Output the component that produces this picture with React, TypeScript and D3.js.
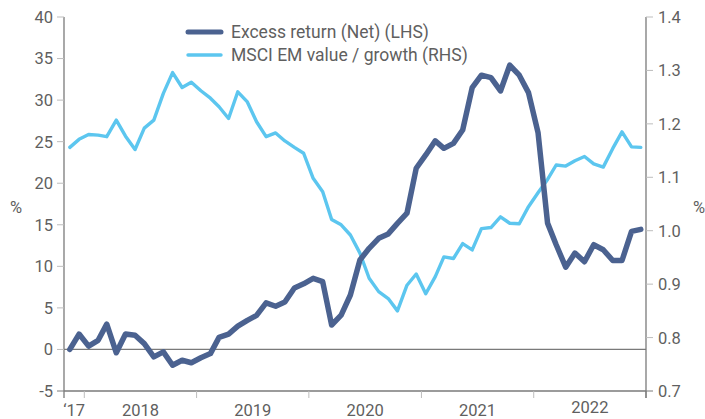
import React from "react";
import * as d3 from "d3";

const months: Date[] = d3.timeMonth.range(new Date(2017, 10, 1), new Date(2023, 0, 1)).map((d) => new Date(d.getFullYear(), d.getMonth(), 15));

const excessReturn: number[] = [
  0.0, 1.85, 0.4, 1.1, 3.05, -0.4, 1.85, 1.7, 0.7, -0.9, -0.3, -1.9, -1.3, -1.6, -1.0, -0.5,
  1.45, 1.85, 2.8, 3.5, 4.1, 5.6, 5.2, 5.7, 7.4, 7.9, 8.55, 8.15, 2.94, 4.14, 6.55, 10.76,
  12.17, 13.37, 13.9, 15.17, 16.4, 21.8, 23.4, 25.1, 24.2, 24.8, 26.4, 31.5, 33.0, 32.7,
  31.1, 34.2, 33.0, 30.9, 26.1, 15.2, 12.6, 9.9, 11.6, 10.55, 12.6, 12.0, 10.7, 10.7, 14.2, 14.45,
];

const valueGrowth: number[] = [
  1.156, 1.171, 1.18, 1.179, 1.176, 1.207, 1.177, 1.152, 1.192, 1.207, 1.257, 1.296, 1.268,
  1.278, 1.262, 1.248, 1.232, 1.21, 1.26, 1.241, 1.204, 1.176, 1.183, 1.168, 1.156, 1.145,
  1.098, 1.073, 1.021, 1.011, 0.992, 0.958, 0.911, 0.886, 0.873, 0.85, 0.898, 0.919, 0.882,
  0.914, 0.951, 0.948, 0.976, 0.964, 1.004, 1.006, 1.026, 1.014, 1.013, 1.045, 1.071, 1.096,
  1.123, 1.121, 1.131, 1.139, 1.125, 1.119, 1.154, 1.185, 1.157, 1.156,
];

const leftTicks: number[] = [-5, 0, 5, 10, 15, 20, 25, 30, 35, 40];
const rightTicks: number[] = [0.7, 0.8, 0.9, 1.0, 1.1, 1.2, 1.3, 1.4];
const yearLabels: string[] = ["\u201817", "2018", "2019", "2020", "2021", "2022"];
const yearBounds: Date[] = [2018, 2019, 2020, 2021, 2022, 2023].map((y) => new Date(y, 0, 1));
const seriesNames: string[] = ["Excess return (Net) (LHS)", "MSCI EM value / growth (RHS)"];

const W = 705;
const H = 419;
const L = 64;
const R = 646;
const T = 17;
const B = 391;
const DARK = "#4b6290";
const LIGHT = "#5cc6ef";
const TEXT = "#5f5f5f";
const AXIS = "#7a7a7a";
const FONT = "Roboto, 'Liberation Sans', sans-serif";

export default function App() {
  const x = d3.scaleTime().domain([yearBounds[0], yearBounds[yearBounds.length - 1]]).range([84.3, R]);
  const yL = d3.scaleLinear().domain([-5, 40]).range([B, T]);
  const yR = d3.scaleLinear().domain([0.7, 1.4]).range([B, T]);

  const lineL = d3
    .line<number>()
    .x((_, i) => x(months[i]))
    .y((d) => yL(d));
  const lineR = d3
    .line<number>()
    .x((_, i) => x(months[i]))
    .y((d) => yR(d));

  const bounds = [L, ...yearBounds.map((d) => x(d))];
  const labelX = yearLabels.map((_, i) => (bounds[i] + bounds[i + 1]) / 2);

  return (
    <svg width={W} height={H} style={{ position: "absolute", left: 0, top: 0 }} fontFamily={FONT}>
      {/* zero line */}
      <line x1={L} x2={R} y1={yL(0)} y2={yL(0)} stroke={AXIS} strokeWidth={1.3} />
      {/* x axis */}
      <line x1={L} x2={R} y1={B} y2={B} stroke={AXIS} strokeWidth={1.3} />
      {yearBounds.map((d, i) => (
        <line key={"xt" + i} x1={x(d)} x2={x(d)} y1={B} y2={B + 7} stroke={i === yearBounds.length - 1 ? AXIS : "#bdbdbd"} strokeWidth={1} />
      ))}
      {yearLabels.map((t, i) => (
        <text key={"xl" + i} x={labelX[i]} y={i === yearLabels.length - 1 ? 413 : 416} textAnchor="middle" fontSize={16.5} fill={TEXT}>
          {t}
        </text>
      ))}
      {/* left axis */}
      <line x1={L} x2={L} y1={T} y2={B + 7} stroke={AXIS} strokeWidth={1.3} />
      {leftTicks.map((v) => (
        <g key={"lt" + v}>
          <line x1={L - 7} x2={L} y1={yL(v)} y2={yL(v)} stroke={v === -5 ? AXIS : "#bdbdbd"} strokeWidth={1} />
          <text x={L - 11} y={yL(v)} dy="0.36em" textAnchor="end" fontSize={16.5} fill={TEXT}>
            {v}
          </text>
        </g>
      ))}
      <text x={16} y={207} dy="0.36em" textAnchor="middle" fontSize={16.5} fill={TEXT}>%</text>
      {/* right axis */}
      <line x1={R} x2={R} y1={T} y2={B + 7} stroke={AXIS} strokeWidth={1.3} />
      {rightTicks.map((v) => (
        <g key={"rt" + v}>
          <line x1={R} x2={R + 7} y1={yR(v)} y2={yR(v)} stroke={v === 0.7 ? AXIS : "#bdbdbd"} strokeWidth={1} />
          <text x={R + 12} y={yR(v)} dy="0.36em" textAnchor="start" fontSize={16.5} fill={TEXT}>
            {v.toFixed(1)}
          </text>
        </g>
      ))}
      <text x={699} y={207} dy="0.36em" textAnchor="middle" fontSize={16.5} fill={TEXT}>%</text>
      {/* series */}
      <path d={lineR(valueGrowth) || ""} fill="none" stroke={LIGHT} strokeWidth={3.4} strokeLinejoin="round" strokeLinecap="round" />
      <path d={lineL(excessReturn) || ""} fill="none" stroke={DARK} strokeWidth={5.5} strokeLinejoin="round" strokeLinecap="round" />
      {/* legend */}
      <line x1={188} x2={221} y1={32} y2={32} stroke={DARK} strokeWidth={5} strokeLinecap="round" />
      <line x1={188} x2={221} y1={55} y2={55} stroke={LIGHT} strokeWidth={3.4} strokeLinecap="round" />
      <text x={231} y={32} dy="0.36em" fontSize={17.5} fill={TEXT}>{seriesNames[0]}</text>
      <text x={231} y={55} dy="0.36em" fontSize={17.5} fill={TEXT}>{seriesNames[1]}</text>
    </svg>
  );
}
